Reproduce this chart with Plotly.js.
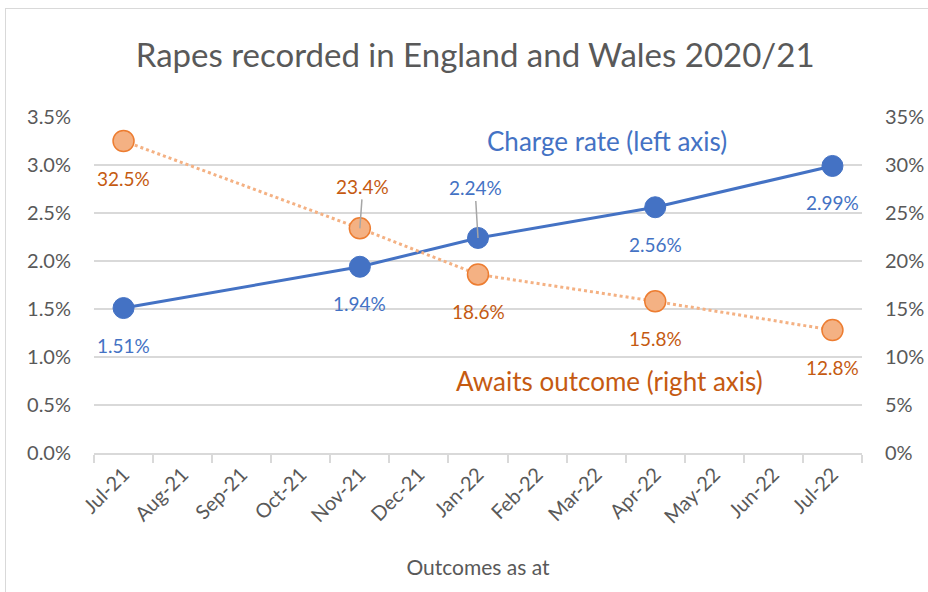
<!DOCTYPE html>
<html>
<head>
<meta charset="utf-8">
<script src="https://cdn.plot.ly/plotly-3.0.1.min.js"></script>
<style>
  body { margin: 0; background: #fff; }
  #frame { position: absolute; left: 5px; top: 8px; width: 940px; height: 600px;
           border-left: 1px solid #d9d9d9; border-top: 1px solid #d9d9d9; }
  #chart { position: absolute; left: 0; top: 0; width: 928px; height: 592px; }
</style>
</head>
<body>
<div id="frame"></div>
<div id="chart"></div>
<script>
// all months on the axis
var months = ['Jul-21', 'Aug-21', 'Sep-21', 'Oct-21', 'Nov-21', 'Dec-21', 'Jan-22',
              'Feb-22', 'Mar-22', 'Apr-22', 'May-22', 'Jun-22', 'Jul-22'];

// months where there is a figure
var dates = ['Jul-21', 'Nov-21', 'Jan-22', 'Apr-22', 'Jul-22'];
var chargeRate = [1.51, 1.94, 2.24, 2.56, 2.99];      // left axis, %
var awaitsOutcome = [32.5, 23.4, 18.6, 15.8, 12.8];   // right axis, %

var blue = '#4472C4';
var orange = '#ED7D31';
var orangeLight = '#F4B183';
var labelOrange = '#C55A11';
var grey = '#595959';
var font = 'Lato, "Open Sans", sans-serif';

var trace1 = {
    x: dates,
    y: chargeRate,
    type: 'scatter',
    mode: 'lines+markers',
    name: 'Charge rate (left axis)',
    line: {color: blue, width: 3},
    marker: {color: blue, size: 21, line: {color: blue, width: 1}},
    cliponaxis: false
};

var trace2 = {
    x: dates,
    y: awaitsOutcome,
    type: 'scatter',
    mode: 'lines+markers',
    name: 'Awaits outcome (right axis)',
    yaxis: 'y2',
    line: {color: orangeLight, width: 3, dash: 'dot'},
    marker: {color: orangeLight, size: 21, line: {color: orange, width: 1.5}},
    cliponaxis: false
};

// label offsets: which labels sit above with a leader line
var blueAbove = [false, false, true, false, false];
var orangeAbove = [false, true, false, false, false];

var annotations = [];
for (var i = 0; i < dates.length; i++) {
    if (blueAbove[i]) {
        annotations.push({x: dates[i], y: chargeRate[i], xref: 'x', yref: 'y',
            text: chargeRate[i].toFixed(2) + '%', showarrow: true, arrowhead: 0,
            arrowcolor: '#a6a6a6', arrowwidth: 1.5, ax: -3, ay: -50, standoff: 0,
            font: {family: font, size: 19, color: blue}});
    } else {
        annotations.push({x: dates[i], y: chargeRate[i], xref: 'x', yref: 'y',
            text: chargeRate[i].toFixed(2) + '%', showarrow: false, yshift: -37,
            font: {family: font, size: 19, color: blue}});
    }
    if (orangeAbove[i]) {
        annotations.push({x: dates[i], y: awaitsOutcome[i], xref: 'x', yref: 'y2',
            text: awaitsOutcome[i].toFixed(1) + '%', showarrow: true, arrowhead: 0,
            arrowcolor: '#a6a6a6', arrowwidth: 1.5, ax: 3, ay: -42, standoff: 0,
            font: {family: font, size: 19, color: labelOrange}});
    } else {
        annotations.push({x: dates[i], y: awaitsOutcome[i], xref: 'x', yref: 'y2',
            text: awaitsOutcome[i].toFixed(1) + '%', showarrow: false, yshift: -37,
            font: {family: font, size: 19, color: labelOrange}});
    }
}

// series names written on the chart
annotations.push({x: 'Apr-22', y: 3.25, xref: 'x', yref: 'y', xanchor: 'center',
    text: 'Charge rate (left axis)', showarrow: false, xshift: -48,
    font: {family: font, size: 26, color: blue}});
annotations.push({x: 'Apr-22', y: 7.5, xref: 'x', yref: 'y2', xanchor: 'center',
    text: 'Awaits outcome (right axis)', showarrow: false, xshift: -46,
    font: {family: font, size: 26, color: labelOrange}});

var layout = {
    width: 928,
    height: 592,
    margin: {l: 94, r: 66, t: 117, b: 139},
    paper_bgcolor: 'rgba(0,0,0,0)',
    plot_bgcolor: 'rgba(0,0,0,0)',
    showlegend: false,
    font: {family: font, color: grey},
    title: {text: 'Rapes recorded in England and Wales 2020/21',
        font: {family: font, size: 33, color: grey}, x: 0.512, xanchor: 'center',
        y: 0.907, yanchor: 'middle'},
    xaxis: {
        type: 'category',
        categoryorder: 'array',
        categoryarray: months,
        tickvals: months,
        range: [-0.5, 12.5],
        tickangle: -45,
        tickson: 'boundaries',
        ticks: 'outside',
        ticklen: 8,
        tickcolor: '#d9d9d9',
        tickwidth: 2,
        showline: true,
        linecolor: '#d9d9d9',
        linewidth: 2,
        showgrid: false,
        tickfont: {family: font, size: 20, color: grey},
        title: {text: 'Outcomes as at', font: {family: font, size: 21, color: grey}, standoff: 34}
    },
    yaxis: {
        range: [0, 3.5],
        dtick: 0.5,
        tickformat: '.1f',
        ticksuffix: '%',
        showgrid: true,
        gridcolor: '#d9d9d9',
        gridwidth: 1.5,
        zeroline: false,
        showline: false,
        ticks: '',
        ticklabelstandoff: 22,
        tickfont: {family: font, size: 20, color: grey}
    },
    yaxis2: {
        overlaying: 'y',
        side: 'right',
        range: [0, 35],
        dtick: 5,
        ticksuffix: '%',
        showgrid: false,
        zeroline: false,
        showline: false,
        ticks: '',
        ticklabelstandoff: 22,
        tickfont: {family: font, size: 20, color: grey}
    },
    annotations: annotations
};

Plotly.newPlot('chart', [trace1, trace2], layout, {displayModeBar: false, staticPlot: true});
</script>
</body>
</html>
